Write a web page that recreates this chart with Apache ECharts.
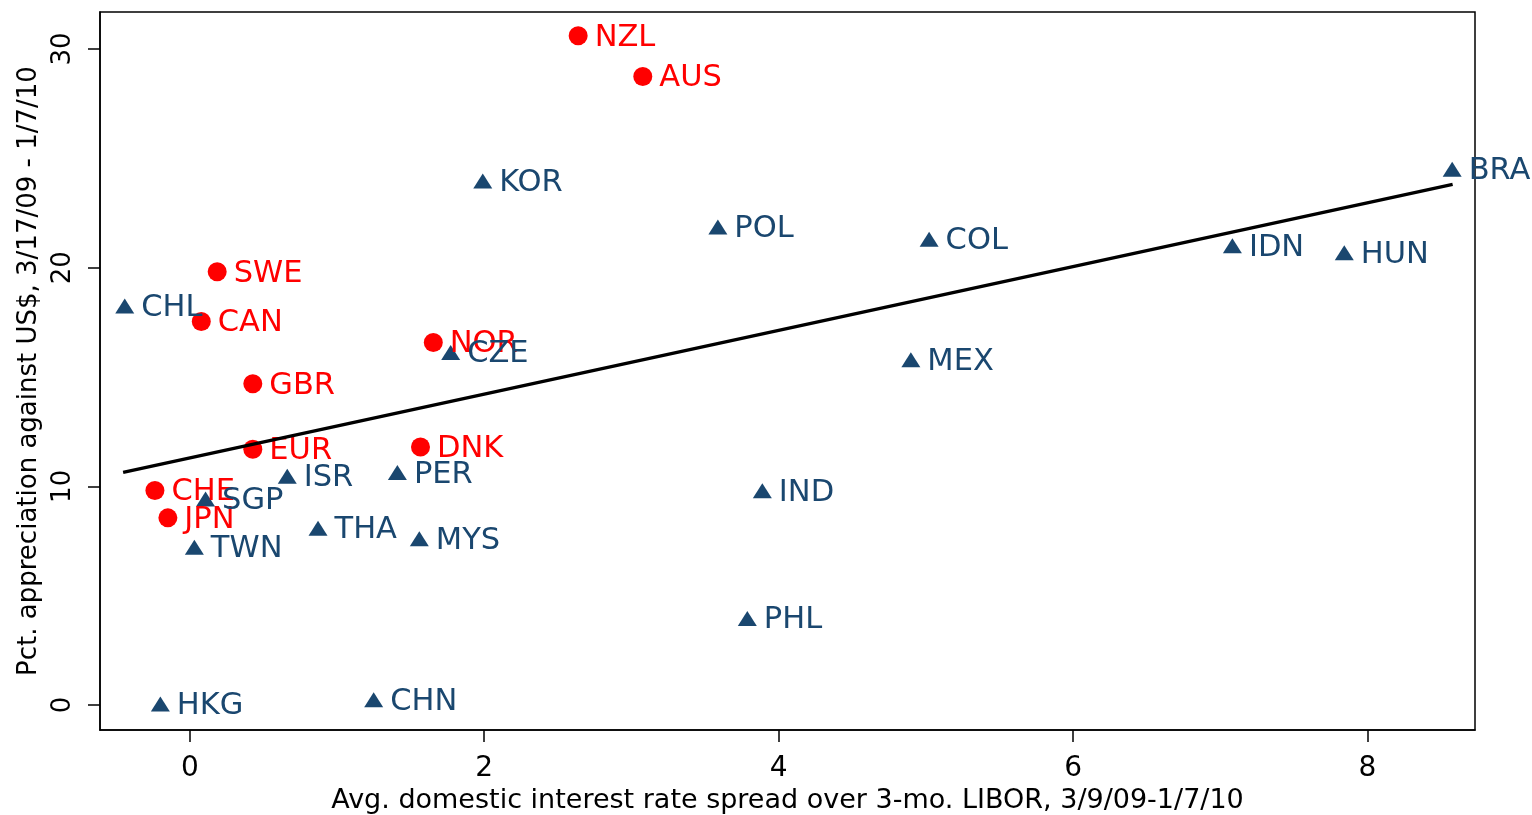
<!DOCTYPE html>
<html>
<head>
<meta charset="utf-8">
<script src="https://cdn.jsdelivr.net/npm/echarts@6/dist/echarts.min.js"></script>
<style>
  html, body { margin: 0; padding: 0; background: #fff; }
  #chart { width: 1532px; height: 815px; }
</style>
</head>
<body>
<div id="chart"></div>
<script>
// Advanced economies (red circles)
const advNames = ['NZL', 'AUS', 'SWE', 'CAN', 'GBR', 'NOR', 'EUR', 'DNK', 'CHE', 'JPN'];
const advSpread = [2.638, 3.077, 0.186, 0.078, 0.428, 1.654, 0.428, 1.567, -0.237, -0.149];
const advAppr = [30.60, 28.74, 19.81, 17.54, 14.69, 16.58, 11.70, 11.80, 9.81, 8.56];

// Emerging economies (navy triangles)
const emNames = ['KOR', 'POL', 'COL', 'BRA', 'IDN', 'HUN', 'CHL', 'CZE', 'MEX', 'ISR', 'PER',
                 'SGP', 'IND', 'THA', 'MYS', 'TWN', 'PHL', 'HKG', 'CHN'];
const emSpread = [1.990, 3.587, 5.022, 8.575, 7.082, 7.842, -0.442, 1.772, 4.898, 0.662, 1.410,
                  0.107, 3.889, 0.871, 1.559, 0.031, 3.787, -0.200, 1.249];
const emAppr = [23.96, 21.86, 21.30, 24.50, 21.00, 20.68, 18.25, 16.12, 15.79, 10.46, 10.63,
                9.42, 9.80, 8.09, 7.60, 7.22, 3.96, 0.05, 0.24];

// Linear fit endpoints
const fitX = [-0.453, 8.578];
const fitY = [10.64, 23.81];

// Axis ticks
const xTicks = [0, 2, 4, 6, 8];
const yTicks = [0, 10, 20, 30];

const FONT = '"DejaVu Sans", Verdana, sans-serif';
const RED = '#ff0000';
const NAVY = '#1a476f';

function toPoints(xs, ys, names) {
  return xs.map((x, i) => ({ value: [x, ys[i]], name: names ? names[i] : undefined }));
}

const labelStyle = (color) => ({
  show: true,
  position: 'right',
  distance: 7,
  offset: [0, 2],
  formatter: (p) => p.name,
  color: color,
  fontFamily: FONT,
  fontSize: 30.5
});

const chart = echarts.init(document.getElementById('chart'), null, { renderer: 'canvas' });

chart.setOption({
  animation: false,
  backgroundColor: '#ffffff',
  grid: {
    left: 100, right: 57, top: 12, bottom: 85,
    outerBoundsMode: 'none',
    containLabel: false,
    show: true,
    borderColor: '#000',
    borderWidth: 1.5,
    backgroundColor: 'transparent'
  },
  xAxis: {
    type: 'value',
    min: -0.61,
    max: 8.73,
    name: 'Avg. domestic interest rate spread over 3-mo. LIBOR, 3/9/09-1/7/10',
    nameLocation: 'middle',
    nameGap: 56,
    nameTextStyle: { fontFamily: FONT, fontSize: 27, color: '#000' },
    axisLine: { show: true, onZero: false, lineStyle: { color: '#000', width: 1.5 } },
    axisTick: { show: true, length: 12, customValues: xTicks, lineStyle: { color: '#000', width: 1.5 } },
    axisLabel: { customValues: xTicks, margin: 25, fontFamily: FONT, fontSize: 28, color: '#000' },
    splitLine: { show: false }
  },
  yAxis: {
    type: 'value',
    min: -1.14,
    max: 31.69,
    name: 'Pct. appreciation against US$, 3/17/09 - 1/7/10',
    nameLocation: 'middle',
    nameRotate: 90,
    nameGap: 56,
    nameTextStyle: { fontFamily: FONT, fontSize: 26, color: '#000' },
    axisLine: { show: true, onZero: false, lineStyle: { color: '#000', width: 1.5 } },
    axisTick: { show: true, length: 12, customValues: yTicks, lineStyle: { color: '#000', width: 1.5 } },
    axisLabel: { customValues: yTicks, rotate: 90, margin: 24, fontFamily: FONT, fontSize: 26, color: '#000' },
    splitLine: { show: false }
  },
  series: [
    {
      name: 'Advanced',
      type: 'scatter',
      symbol: 'circle',
      symbolSize: 19,
      itemStyle: { color: RED, opacity: 1 },
      label: labelStyle(RED),
      data: toPoints(advSpread, advAppr, advNames)
    },
    {
      name: 'Emerging',
      type: 'scatter',
      symbol: 'triangle',
      symbolSize: [19, 15],
      itemStyle: { color: NAVY, opacity: 1 },
      label: labelStyle(NAVY),
      data: toPoints(emSpread, emAppr, emNames)
    },
    {
      name: 'Fitted values',
      type: 'line',
      z: 5,
      symbol: 'none',
      lineStyle: { color: '#000', width: 3.5 },
      data: toPoints(fitX, fitY)
    }
  ]
});
</script>
</body>
</html>
